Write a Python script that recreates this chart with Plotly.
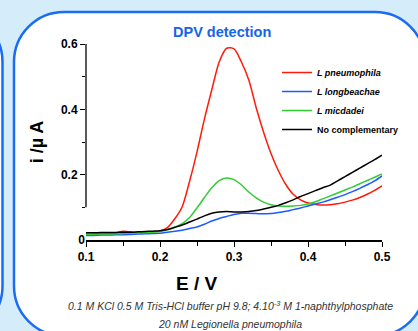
import plotly.graph_objects as go

# ---------------- data ----------------
E = [0.10, 0.11, 0.12, 0.13, 0.14, 0.15, 0.16, 0.17, 0.18, 0.19,
     0.20, 0.21, 0.22, 0.23, 0.24, 0.25, 0.26, 0.27, 0.28, 0.29,
     0.30, 0.31, 0.32, 0.33, 0.34, 0.35, 0.36, 0.37, 0.38, 0.39,
     0.40, 0.41, 0.42, 0.43, 0.44, 0.45, 0.46, 0.47, 0.48, 0.49, 0.50]

pneumophila = [0.018, 0.018, 0.019, 0.019, 0.021, 0.027, 0.025, 0.022, 0.023, 0.025,
               0.028, 0.038, 0.065, 0.102, 0.180, 0.270, 0.370, 0.460, 0.545, 0.587,
               0.585, 0.545, 0.490, 0.405, 0.330, 0.265, 0.212, 0.170, 0.140, 0.123,
               0.113, 0.109, 0.107, 0.108, 0.111, 0.116, 0.122, 0.130, 0.140, 0.152, 0.166]

longbeachae = [0.014, 0.014, 0.015, 0.015, 0.016, 0.016, 0.017, 0.018, 0.019, 0.020,
               0.021, 0.024, 0.027, 0.030, 0.035, 0.040, 0.048, 0.058, 0.066, 0.072,
               0.078, 0.082, 0.082, 0.081, 0.080, 0.081, 0.084, 0.088, 0.093, 0.098,
               0.104, 0.110, 0.116, 0.123, 0.131, 0.139, 0.148, 0.158, 0.169, 0.181, 0.196]

micdadei = [0.017, 0.017, 0.018, 0.018, 0.019, 0.020, 0.021, 0.022, 0.023, 0.024,
            0.026, 0.031, 0.039, 0.050, 0.069, 0.098, 0.130, 0.160, 0.182, 0.190,
            0.185, 0.169, 0.147, 0.129, 0.116, 0.108, 0.104, 0.103, 0.104, 0.106,
            0.110, 0.117, 0.126, 0.135, 0.144, 0.153, 0.162, 0.172, 0.182, 0.192, 0.202]

no_complementary = [0.022, 0.022, 0.023, 0.023, 0.023, 0.024, 0.024, 0.025, 0.026, 0.027,
                    0.028, 0.032, 0.039, 0.046, 0.055, 0.064, 0.074, 0.082, 0.086, 0.087,
                    0.086, 0.086, 0.087, 0.090, 0.095, 0.100, 0.106, 0.114, 0.123, 0.133,
                    0.142, 0.151, 0.160, 0.168, 0.181, 0.194, 0.207, 0.220, 0.233, 0.246, 0.260]

series_names = ["<b><i>L pneumophila</i></b>", "<b><i>L longbeachae</i></b>",
                "<b><i>L micdadei</i></b>", "<b>No complementary</b>"]
series_colors = ["#ff1a0a", "#1a5cff", "#33cc33", "#000000"]

x_ticks = [0.1, 0.2, 0.3, 0.4, 0.5]
x_minor = [0.15, 0.25, 0.35, 0.45]
y_ticks = [0.2, 0.4, 0.6]
y_minor = [0.1, 0.3, 0.5]

# ---------------- geometry helpers (pixel -> paper) ----------------
W, H = 418, 331
L, R, T, B = 86, 36, 44, 91
PW, PH = W - L - R, H - T - B


def px(x):
    return (x - L) / PW


def py(y):
    return (H - B - y) / PH


def rounded_rect(x0, y0, x1, y1, r):
    k = 0.5523 * r

    def P(x, y):
        return f"{px(x):.5f},{py(y):.5f}"
    d = f"M{P(x0 + r, y0)} L{P(x1 - r, y0)} "
    d += f"C{P(x1 - r + k, y0)} {P(x1, y0 + r - k)} {P(x1, y0 + r)} "
    d += f"L{P(x1, y1 - r)} "
    d += f"C{P(x1, y1 - r + k)} {P(x1 - r + k, y1)} {P(x1 - r, y1)} "
    d += f"L{P(x0 + r, y1)} "
    d += f"C{P(x0 + r - k, y1)} {P(x0, y1 - r + k)} {P(x0, y1 - r)} "
    d += f"L{P(x0, y0 + r)} "
    d += f"C{P(x0, y0 + r - k)} {P(x0 + r - k, y0)} {P(x0 + r, y0)} Z"
    return d


FONT = "Liberation Sans, Arial, sans-serif"

fig = go.Figure()
for name, vals, col in zip(series_names,
                           [pneumophila, longbeachae, micdadei, no_complementary],
                           series_colors):
    fig.add_trace(go.Scatter(x=E, y=vals, mode="lines", name=name,
                             line=dict(color=col, width=1.5, shape="spline", smoothing=0.8)))

shapes = [
    dict(type="path", xref="paper", yref="paper", layer="below",
         path=rounded_rect(-80, 12, 2.5, 336, 50),
         fillcolor="white", line=dict(color="#1a6cf2", width=2.5)),
    dict(type="path", xref="paper", yref="paper", layer="below",
         path=rounded_rect(14, 12, 425, 336, 50),
         fillcolor="white", line=dict(color="#1a6cf2", width=2.5)),
    # broken y-axis line from 0.1 to 0.6
    dict(type="line", xref="paper", yref="y", x0=0, x1=0, y0=0.1, y1=0.6,
         line=dict(color="black", width=1.3)),
]

fig.update_layout(
    width=W, height=H,
    margin=dict(l=L, r=R, t=T, b=B),
    paper_bgcolor="#d5ecfb",
    plot_bgcolor="rgba(0,0,0,0)",
    font=dict(family=FONT, color="black"),
    shapes=shapes,
    showlegend=True,
    legend=dict(x=px(277), y=py(58), xanchor="left", yanchor="top",
                bgcolor="rgba(0,0,0,0)", font=dict(size=9, family=FONT, color="black"),
                tracegroupgap=0, itemwidth=30),
    xaxis=dict(range=[0.1, 0.5], tickvals=x_ticks, ticktext=[f"<b>{v:.1f}</b>" for v in x_ticks],
               ticks="outside", ticklen=5, tickwidth=1.2, tickcolor="black",
               minor=dict(tickvals=x_minor, ticks="outside", ticklen=4, tickwidth=1.2, tickcolor="black"),
               showline=True, linecolor="black", linewidth=1.5, showgrid=False, zeroline=False,
               tickfont=dict(size=12, family=FONT, color="black")),
    yaxis=dict(range=[0, 0.6], tickvals=y_ticks, ticktext=[f"<b>{v:.1f}</b>" for v in y_ticks],
               ticks="outside", ticklen=5, tickwidth=1.2, tickcolor="black",
               minor=dict(tickvals=y_minor, ticks="outside", ticklen=3, tickwidth=1.2, tickcolor="black"),
               showline=False, showgrid=False, zeroline=False,
               tickfont=dict(size=12, family=FONT, color="black"),
               title=dict(text="<b>i /µ A</b>", font=dict(size=18, family=FONT), standoff=12)),
    yaxis2=dict(range=[0, 0.6], overlaying="y", side="left", tickvals=[0], ticktext=["<b>0</b>"],
                ticks="", showline=False, showgrid=False, zeroline=False,
                tickfont=dict(size=12, family=FONT, color="black")),
    annotations=[
        dict(text="<b>DPV detection</b>", xref="paper", yref="paper", x=px(222), y=py(32),
             showarrow=False, font=dict(size=14.5, family=FONT, color="#1565e6"),
             xanchor="center", yanchor="middle"),
        dict(text="<b>E / V</b>", xref="paper", yref="paper", x=px(197), y=py(283),
             showarrow=False, font=dict(size=19, family=FONT, color="black"),
             xanchor="center", yanchor="middle"),
        dict(text="<i>0.1 M KCl 0.5 M Tris-HCl buffer pH 9.8; 4.10<sup>-3</sup> M 1-naphthylphosphate</i>",
             xref="paper", yref="paper", x=px(230), y=py(305),
             showarrow=False, font=dict(size=10.5, family=FONT, color="#333333"),
             xanchor="center", yanchor="middle"),
        dict(text="<i>20 nM Legionella pneumophila</i>",
             xref="paper", yref="paper", x=px(230), y=py(324),
             showarrow=False, font=dict(size=10.5, family=FONT, color="#333333"),
             xanchor="center", yanchor="middle"),
    ],
)

# invisible trace to activate the overlay axis carrying the "0" label
fig.add_trace(go.Scatter(x=[None], y=[None], yaxis="y2", showlegend=False, hoverinfo="skip"))

fig.write_html("out.html",
               config={"displayModeBar": False},
               post_script="document.body.style.margin='0';"
                           "document.body.style.overflow='hidden';"
                           "document.body.style.background='#d5ecfb';")
